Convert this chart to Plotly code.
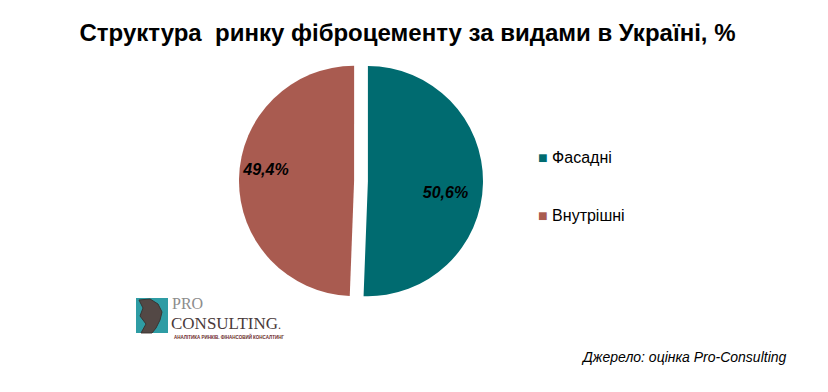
import plotly.graph_objects as go

title_text = "Структура\u00a0 ринку фіброцементу за видами в Україні, %"
categories = ["Фасадні", "Внутрішні"]
values = [50.6, 49.4]
value_labels = ["50,6%", "49,4%"]
colors = ["#006B70", "#A95B50"]
source_text = "Джерело: оцінка Pro-Consulting"

W, H = 828, 392

def px(x):
    return x / W

def py(y):
    return 1 - y / H

NB = "\u00a0"
# place labels off-centre inside their slices as in the reference
label_texts = [
    NB + "<br>" + NB * 9 + value_labels[0],
    value_labels[1] + NB * 14 + "<br>" + NB,
]

fig = go.Figure()

fig.add_trace(go.Pie(
    labels=categories,
    values=values,
    text=label_texts,
    textinfo="text",
    textposition="inside",
    insidetextorientation="horizontal",
    textfont=dict(family="Liberation Sans", size=16, color="black", weight="bold", style="italic"),
    marker=dict(colors=colors, line=dict(width=0)),
    pull=[0.06, 0.06],
    sort=False,
    direction="clockwise",
    rotation=0,
    showlegend=False,
    hoverinfo="label+percent",
    domain=dict(x=[px(361 - 122), px(361 + 122)], y=[py(181 + 122), py(181 - 122)]),
))

# legend entries (coloured square drawn as a glyph for tight spacing)
for name, col in zip(categories, colors):
    fig.add_trace(go.Scatter(
        x=[None], y=[None], mode="markers", legendgroup=name,
        name=f"<span style='color:{col}'>■</span>{NB}{name}",
        marker=dict(symbol="square", size=1, color="rgba(0,0,0,0)"),
        showlegend=True,
    ))

fig.update_xaxes(visible=False)
fig.update_yaxes(visible=False)

shapes = [
    dict(type="rect", xref="paper", yref="paper",
         x0=px(136), x1=px(168), y0=py(333), y1=py(298),
         fillcolor="#2E9CA4", line=dict(width=0), layer="above"),
    dict(type="path", xref="paper", yref="paper", layer="above",
         path=(f"M {px(139)} {py(300)} L {px(150)} {py(299)} L {px(158)} {py(304)} L {px(162)} {py(312)} "
               f"L {px(160)} {py(320)} L {px(156)} {py(328)} L {px(152)} {py(333)} L {px(141)} {py(333)} "
               f"L {px(146)} {py(324)} L {px(140)} {py(316)} L {px(143)} {py(308)} Z"),
         fillcolor="#5A3A35", line=dict(color="#3A2420", width=1), opacity=0.85),
]

annotations = [
    dict(text="PRO", xref="paper", yref="paper", x=px(170), y=py(303), xanchor="left", yanchor="middle",
         showarrow=False, font=dict(family="Liberation Serif", size=16, color="#8C8C8C")),
    dict(text="CONSULTING<span style='font-size:12px'>.</span>", xref="paper", yref="paper", x=px(169), y=py(323),
         xanchor="left", yanchor="middle", showarrow=False,
         font=dict(family="Liberation Serif", size=17, color="#4A3A3A")),
    dict(text="АНАЛІТИКА РИНКІВ. ФІНАНСОВИЙ КОНСАЛТИНГ", xref="paper", yref="paper", x=px(172), y=py(336),
         xanchor="left", yanchor="middle", showarrow=False,
         font=dict(family="Liberation Sans", size=4.5, color="#6A2A2A", weight="bold")),
    dict(text=source_text, xref="paper", yref="paper", x=px(789), y=py(357), xanchor="right", yanchor="middle",
         showarrow=False, font=dict(family="Liberation Sans", size=14, color="black", style="italic")),
]

fig.update_layout(
    width=W, height=H,
    margin=dict(l=0, r=0, t=0, b=0, autoexpand=False),
    paper_bgcolor="white", plot_bgcolor="white",
    title=dict(text=title_text, x=px(407.5), xanchor="center", y=py(33), yanchor="middle",
               font=dict(family="Liberation Sans", size=24, color="black", weight="bold")),
    legend=dict(x=px(498), y=py(140), xanchor="left", yanchor="top",
                font=dict(family="Liberation Sans", size=16, color="black"),
                tracegroupgap=34, itemwidth=30, bgcolor="rgba(0,0,0,0)"),
    shapes=shapes,
    annotations=annotations,
)

fig.write_html("out.html", config={"displayModeBar": False},
               post_script="document.body.style.margin='0px';")
